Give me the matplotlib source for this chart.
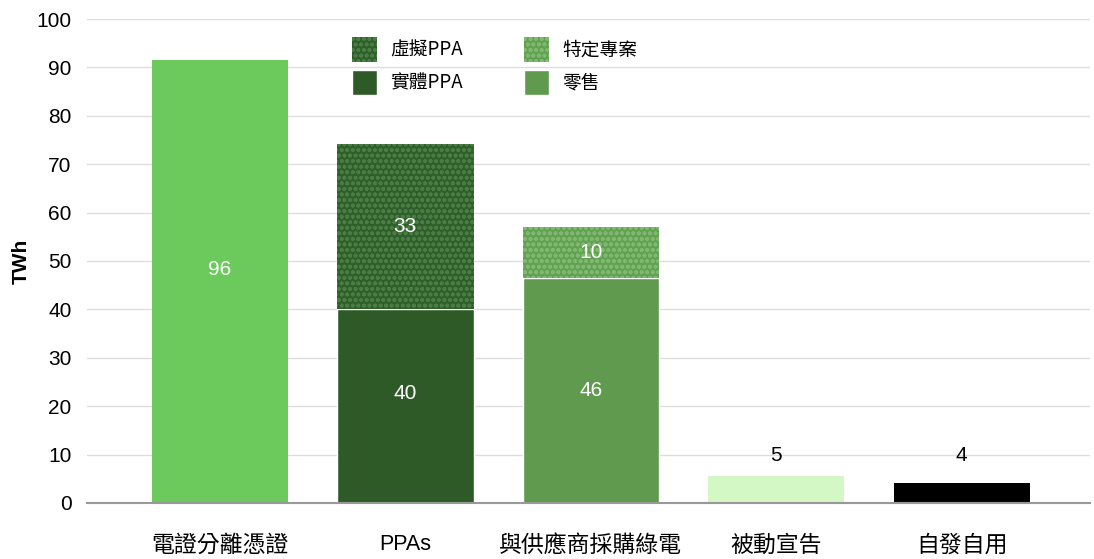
import matplotlib
matplotlib.use("Agg")
import matplotlib.pyplot as plt

plt.rcParams['font.family'] = ['Noto Sans CJK TC', 'DejaVu Sans']
plt.rcParams['hatch.linewidth'] = 1.2

# categories on the x axis
categories = ["電證分離憑證", "PPAs", "與供應商採購綠電", "被動宣告", "自發自用"]

# bar heights (TWh), printed labels kept apart
unbundled = [91.5, 0, 0, 0, 0]
physical_ppa = [0, 40.1, 0, 0, 0]
virtual_ppa = [0, 34.1, 0, 0, 0]
retail = [0, 0, 46.5, 0, 0]
specific_project = [0, 0, 10.5, 0, 0]
passive = [0, 0, 0, 5.6, 0]
self_gen = [0, 0, 0, 0, 4.1]

label_unbundled = "96"
label_physical = "40"
label_virtual = "33"
label_retail = "46"
label_specific = "10"
label_passive = "5"
label_self = "4"

LATIN = ["Liberation Sans", "DejaVu Sans"]

fig = plt.figure(figsize=(10.94, 5.59), dpi=100)
ax = fig.add_axes([0.0795, 0.1002, 0.9165, 0.8658])

x = list(range(len(categories)))
w = 0.735

ax.bar(x, unbundled, w, color="#6cc95c", zorder=2)
b_phys = ax.bar(x, physical_ppa, w, color="#2d5a27", edgecolor="white",
                linewidth=1, zorder=2)
b_virt = ax.bar(x, virtual_ppa, w, bottom=physical_ppa, color="#2e5e2a",
                edgecolor="#4a7c43", linewidth=0, hatch="ooo", zorder=2)
b_ret = ax.bar(x, retail, w, color="#5f9a4e", edgecolor="white",
               linewidth=1, zorder=2)
b_spec = ax.bar(x, specific_project, w, bottom=retail, color="#62a052",
                edgecolor="#7fb86f", linewidth=0, hatch="ooo", zorder=2)
ax.bar(x, passive, w, color="#d4f7c6", zorder=2)
ax.bar(x, self_gen, w, color="black", zorder=2)

# labels inside / above bars
txt = dict(ha="center", va="center", fontsize=15, family=LATIN)
ax.text(0, unbundled[0] / 2 + 2.5, label_unbundled, color="white", **txt)
ax.text(1, physical_ppa[1] / 2 + 2.5, label_physical, color="white", **txt)
ax.text(1, physical_ppa[1] + virtual_ppa[1] / 2, label_virtual, color="white", **txt)
ax.text(2, retail[2] / 2, label_retail, color="white", **txt)
ax.text(2, retail[2] + specific_project[2] / 2, label_specific, color="white", **txt)
ax.text(3, passive[3] + 4.2, label_passive, color="black", **txt)
ax.text(4, self_gen[4] + 5.7, label_self, color="black", **txt)

ax.set_xlim(-0.717, 4.69)
ax.set_ylim(0, 100)
ax.set_yticks(range(0, 101, 10))
ax.set_xticks(x)
ax.set_xticklabels(categories, fontsize=16.5)
for t in ax.get_xticklabels():
    if t.get_text().isascii():
        t.set_family(LATIN)
        t.set_fontsize(15.5)
for t in ax.get_yticklabels():
    t.set_family(LATIN)
    t.set_fontsize(15)
ax.tick_params(axis="x", length=0, pad=22)
ax.tick_params(axis="y", length=0, pad=11)
ax.set_ylabel("TWh", fontsize=15, fontweight="bold", family=LATIN, labelpad=4)

ax.grid(axis="y", color="#dddddd", linewidth=1, zorder=0)
for s in ["top", "right", "left"]:
    ax.spines[s].set_visible(False)
ax.spines["bottom"].set_color("#999999")
ax.spines["bottom"].set_linewidth(1.5)
ax.spines["bottom"].set_zorder(3)

ax.legend([b_virt, b_phys, b_spec, b_ret],
          ["虛擬PPA", "實體PPA", "特定專案", "零售"],
          ncol=2, loc="upper left", bbox_to_anchor=(0.264, 0.963),
          frameon=False, prop={"size": 13.5},
          handlelength=1.33, handleheight=1.69, handletextpad=0.7,
          columnspacing=3.3, labelspacing=0.43, borderaxespad=0, borderpad=0)

fig.savefig("out.png", dpi=100)
